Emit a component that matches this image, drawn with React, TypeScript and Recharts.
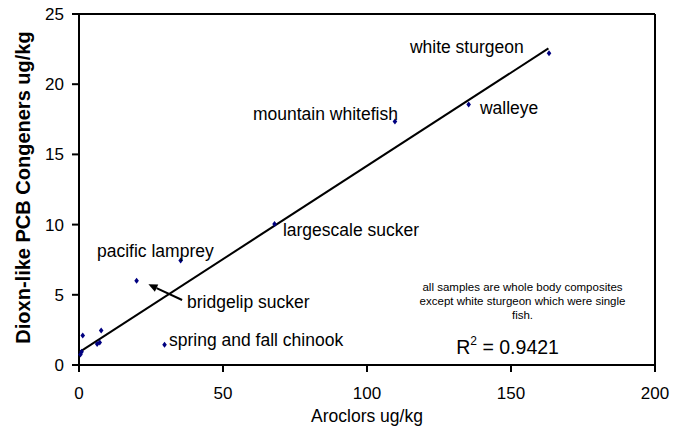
import { ReferenceLine, Scatter, ScatterChart, XAxis, YAxis } from 'recharts';

const FONT = '"Liberation Sans", Arial, sans-serif';

// fish samples: Aroclors (x) vs dioxin-like PCB congeners (y), ug/kg
const sampleX = [0.5, 0.9, 1.3, 6.3, 7.2, 7.7, 20, 29.7, 35.3, 67.9, 109.7, 135.3, 163.2];
const sampleY = [0.75, 0.95, 2.1, 1.5, 1.6, 2.45, 6.0, 1.45, 7.45, 10.05, 17.35, 18.55, 22.2];

// linear fit end points
const trendX = [0, 163];
const trendY = [0.9, 22.55];

const speciesNames = [
  'white sturgeon',
  'walleye',
  'mountain whitefish',
  'largescale sucker',
  'pacific lamprey',
  'bridgelip sucker',
  'spring and fall chinook',
];
const nameX = [114.9, 139.2, 60.4, 70.8, 6.25, 37.5, 31.25];
const nameY = [22.65, 18.3, 17.9, 9.6, 8.1, 4.5, 1.8];

const noteLines = [
  'all samples are whole body composites',
  'except white sturgeon which were single',
  'fish.',
];
const noteX = 154;
const noteY = [5.56, 4.56, 3.56];

const rSquared = '0.9421';
const rX = 131;
const rY = 1.28;

// arrow from "bridgelip sucker" to its point
const arrowFrom = { x: 35.8, y: 4.63 };
const arrowTo = { x: 24.1, y: 5.75 };

const xTicks = [0, 50, 100, 150, 200];
const yTicks = [0, 5, 10, 15, 20, 25];

const points = sampleX.map((x, i) => ({ x, y: sampleY[i] }));
const trend = trendX.map((x, i) => ({ x, y: trendY[i] }));
const names = speciesNames.map((text, i) => ({ x: nameX[i], y: nameY[i], text }));
const note = noteLines.map((text, i) => ({ x: noteX, y: noteY[i], text }));
const rLabel = [{ x: rX, y: rY, text: rSquared }];

const Diamond = (p: any) => {
  const { cx, cy } = p;
  return (
    <polygon
      points={`${cx},${cy - 3} ${cx + 2.3},${cy} ${cx},${cy + 3} ${cx - 2.3},${cy}`}
      fill="#000080"
    />
  );
};

const NameText = (p: any) => (
  <text x={p.cx} y={p.cy} dy="0.35em" fontSize={17.5} fontFamily={FONT} fill="#000">
    {p.payload.text}
  </text>
);

const NoteText = (p: any) => (
  <text
    x={p.cx}
    y={p.cy}
    dy="0.35em"
    textAnchor="middle"
    fontSize={11.5}
    fontFamily={FONT}
    fill="#000"
  >
    {p.payload.text}
  </text>
);

const RText = (p: any) => (
  <text x={p.cx} y={p.cy} dy="0.35em" fontSize={19.5} fontFamily={FONT} fill="#000">
    <tspan>R</tspan>
    <tspan dy={-9} fontSize={12}>
      2
    </tspan>
    <tspan dy={9}>{` = ${p.payload.text}`}</tspan>
  </text>
);

const Arrow = (p: any) => {
  const { x1, y1, x2, y2 } = p;
  const ang = Math.atan2(y2 - y1, x2 - x1);
  const len = 9;
  const w = 4;
  const bx = x2 - len * Math.cos(ang);
  const by = y2 - len * Math.sin(ang);
  const px = -Math.sin(ang) * w;
  const py = Math.cos(ang) * w;
  return (
    <g>
      <line x1={x1} y1={y1} x2={bx} y2={by} stroke="#000" strokeWidth={2} />
      <polygon points={`${x2},${y2} ${bx + px},${by + py} ${bx - px},${by - py}`} fill="#000" />
    </g>
  );
};

const tickStyle = { fill: '#000', fontSize: 17, fontFamily: FONT };
const axisStroke = { stroke: '#000', strokeWidth: 2 };

export default function App() {
  return (
    <div style={{ position: 'absolute', left: 0, top: 0, background: '#fff' }}>
      <ScatterChart
        width={681}
        height={441}
        margin={{ top: 14, right: 26, bottom: 16, left: 0 }}
      >
        <XAxis
          type="number"
          dataKey="x"
          domain={[0, 200]}
          ticks={xTicks}
          interval={0}
          tickSize={7}
          tickMargin={15}
          height={60}
          axisLine={axisStroke}
          tickLine={axisStroke}
          tick={tickStyle}
          label={{
            content: (props: any) => {
              const vb = props.viewBox;
              return (
                <text
                  x={vb.x + vb.width / 2}
                  y={vb.y + 51}
                  dy="0.35em"
                  textAnchor="middle"
                  fontSize={17.5}
                  fontFamily={FONT}
                  fill="#000"
                >
                  Aroclors ug/kg
                </text>
              );
            },
          }}
        />
        <YAxis
          type="number"
          dataKey="y"
          domain={[0, 25]}
          ticks={yTicks}
          interval={0}
          width={79}
          tickSize={7}
          tickMargin={8}
          axisLine={axisStroke}
          tickLine={axisStroke}
          tick={tickStyle}
          label={{
            content: (props: any) => {
              const vb = props.viewBox;
              const cx = 23;
              const cy = vb.y + vb.height / 2 - 2;
              return (
                <text
                  x={cx}
                  y={cy}
                  dy="0.35em"
                  textAnchor="middle"
                  transform={`rotate(-90 ${cx} ${cy})`}
                  fontSize={20}
                  fontWeight="bold"
                  fontFamily={FONT}
                  fill="#000"
                >
                  Dioxn-like PCB Congeners ug/kg
                </text>
              );
            },
          }}
        />
        <ReferenceLine y={25} stroke="#000" strokeWidth={2} />
        <ReferenceLine x={200} stroke="#000" strokeWidth={2} />
        <ReferenceLine segment={[arrowFrom, arrowTo]} shape={Arrow} />
        <Scatter
          data={trend}
          line={{ stroke: '#000', strokeWidth: 2 }}
          shape={() => <g />}
          isAnimationActive={false}
        />
        <Scatter data={points} shape={Diamond} isAnimationActive={false} />
        <Scatter data={names} shape={NameText} isAnimationActive={false} />
        <Scatter data={note} shape={NoteText} isAnimationActive={false} />
        <Scatter data={rLabel} shape={RText} isAnimationActive={false} />
      </ScatterChart>
    </div>
  );
}
